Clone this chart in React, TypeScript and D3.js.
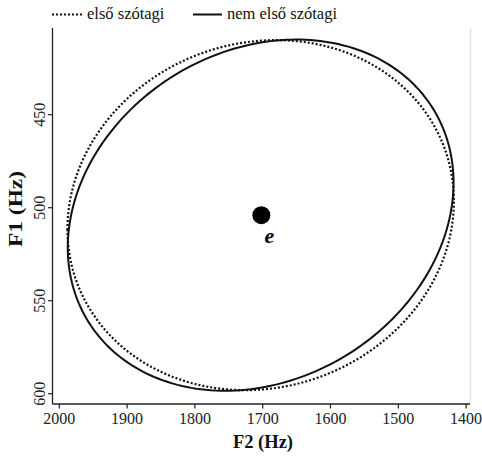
import React from "react";
import * as d3 from "d3";

// F2 / F1 ellipses for the vowel e, first vs non-first syllable
const groups = ["első szótagi", "nem első szótagi"];
const groupDash = ["2,2", null];
const centerF2 = [1703, 1703];
const centerF1 = [504, 504];
const sdF2 = [285, 284.5];
const sdF1 = [94.1, 94.4];
const corrF2F1 = [0.08, 0.185];

const vowelLabel = "e";
const vowelF2 = 1702;
const vowelF1 = 504;

const xTicks = [2000, 1900, 1800, 1700, 1600, 1500, 1400];
const yTicks = [450, 500, 550, 600];

const W = 482;
const H = 459;
const serif = "'Liberation Serif', 'Times New Roman', serif";

export default function App() {
  const x = d3.scaleLinear().domain([2000, 1400]).range([59.3, 466.1]);
  const y = d3.scaleLinear().domain([450, 600]).range([114.7, 393.7]);

  const axisLeftX = 52.5;
  const axisBottomY = 404;
  const axisTop = 28;
  const axisRight = 470;

  const ellipse = (i: number) => {
    const n = 240;
    const r = corrF2F1[i];
    const pts: [number, number][] = d3.range(n).map((k) => {
      const t = (k / n) * Math.PI * 2;
      const f2 = centerF2[i] + sdF2[i] * Math.cos(t);
      const f1 = centerF1[i] + sdF1[i] * (r * Math.cos(t) + Math.sqrt(1 - r * r) * Math.sin(t));
      return [x(f2), y(f1)];
    });
    return d3.line().curve(d3.curveLinearClosed)(pts) || "";
  };

  return (
    <svg
      width={W}
      height={H}
      style={{ position: "absolute", left: 0, top: 0, background: "#fff" }}
      fontFamily={serif}
    >
      {/* legend */}
      <g>
        <line x1={52} x2={82} y1={14.5} y2={14.5} stroke="#111" strokeWidth={2} strokeDasharray="2,2" />
        <text x={87} y={18.5} fontSize={16.5} fill="#111">{groups[0]}</text>
        <line x1={193} x2={222} y1={14.5} y2={14.5} stroke="#111" strokeWidth={2} />
        <text x={227} y={18.5} fontSize={16.5} fill="#111">{groups[1]}</text>
      </g>

      {/* faint right edge */}
      <line x1={axisRight + 0.5} x2={axisRight + 0.5} y1={axisTop} y2={axisBottomY} stroke="#e4e4e4" strokeWidth={1.5} />

      {/* axes */}
      <line x1={axisLeftX} x2={axisLeftX} y1={axisTop} y2={axisBottomY} stroke="#222" strokeWidth={1.3} />
      <line x1={axisLeftX} x2={axisRight} y1={axisBottomY} y2={axisBottomY} stroke="#222" strokeWidth={1.3} />
      {xTicks.map((v) => (
        <g key={"x" + v}>
          <line x1={x(v)} x2={x(v)} y1={axisBottomY} y2={axisBottomY + 4.5} stroke="#222" strokeWidth={1.2} />
          <text x={x(v)} y={423.5} fontSize={16} textAnchor="middle" fill="#222">{v}</text>
        </g>
      ))}
      {yTicks.map((v) => (
        <g key={"y" + v}>
          <line x1={axisLeftX - 4.5} x2={axisLeftX} y1={y(v)} y2={y(v)} stroke="#222" strokeWidth={1.2} />
          <text
            transform={`translate(45,${y(v)}) rotate(-90)`}
            fontSize={16}
            textAnchor="middle"
            fill="#222"
          >
            {v}
          </text>
        </g>
      ))}
      <text x={263} y={448} fontSize={18.5} fontWeight="bold" textAnchor="middle" fill="#111">
        F2 (Hz)
      </text>
      <text
        transform="translate(22,209) rotate(-90) scale(1.3,1)"
        fontSize={18}
        fontWeight="bold"
        textAnchor="middle"
        fill="#111"
      >
        F1 (Hz)
      </text>

      {/* ellipses */}
      {groups.map((g, i) => (
        <path
          key={g}
          d={ellipse(i)}
          fill="none"
          stroke="#111"
          strokeWidth={i === 0 ? 2.2 : 2}
          strokeDasharray={groupDash[i] || undefined}
        />
      ))}

      {/* vowel centroid */}
      <circle cx={x(vowelF2)} cy={y(vowelF1)} r={9} fill="#000" />
      <text
        x={x(vowelF2) + 8}
        y={y(vowelF1) + 28}
        fontSize={22}
        fontWeight="bold"
        fontStyle="italic"
        textAnchor="middle"
        fill="#000"
      >
        {vowelLabel}
      </text>
    </svg>
  );
}
